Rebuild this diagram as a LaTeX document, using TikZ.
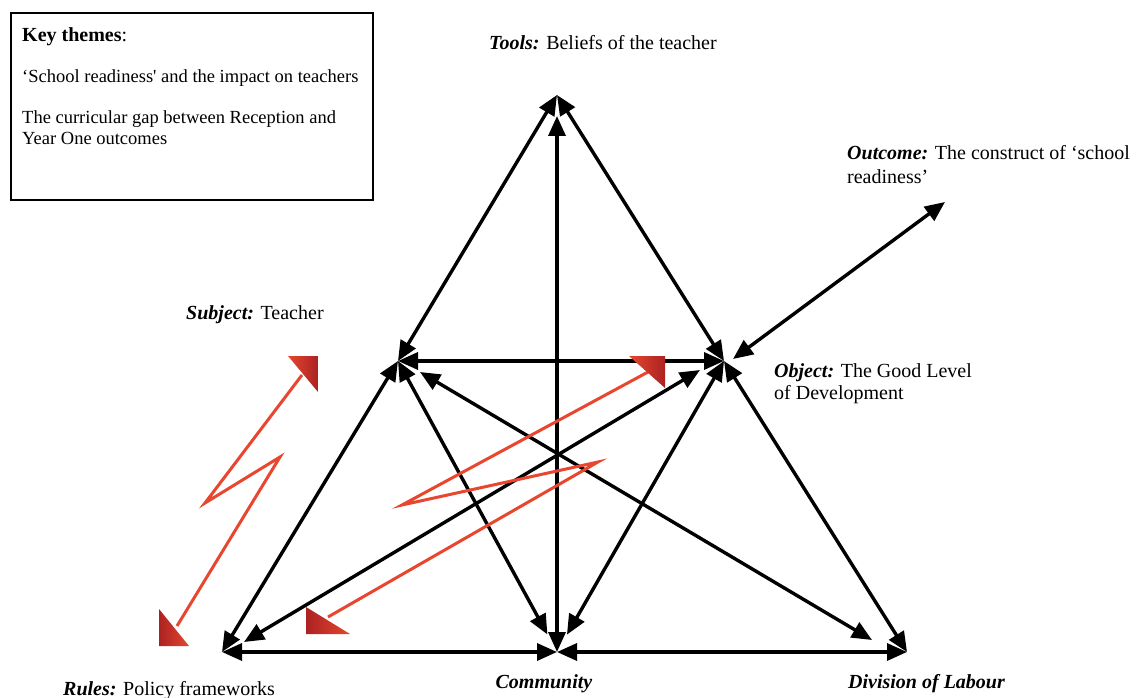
\documentclass[tikz,border=0pt]{standalone}
\usepackage{fontspec}
\setmainfont{Liberation Serif}
\usetikzlibrary{arrows.meta,calc}
\definecolor{redline}{HTML}{E8462E}
\definecolor{reddark}{HTML}{AC2222}
\definecolor{redlight}{HTML}{E4472F}
\begin{document}
\begin{tikzpicture}[x=1pt,y=-1pt,
  blk/.style={line width=3.4pt,{Triangle[length=20pt,width=17pt]}-{Triangle[length=20pt,width=17pt]}},
  zig/.style={draw=redline,line width=3pt,line join=miter},
  lab/.style={font=\fontsize{20}{23}\selectfont,anchor=base west,inner sep=0pt},
  boxtxt/.style={font=\fontsize{18.5}{21}\selectfont,anchor=base west,inner sep=0pt}
]
\useasboundingbox (0,0) rectangle (1136,698);
\fill[white] (0,0) rectangle (1136,698);

% key themes box
\draw[line width=2pt] (11,13) rectangle (373,200);
\node[boxtxt,font=\fontsize{20}{23}\selectfont] (k1) at (22,42) {\textbf{Key themes}:};
\node[boxtxt] (k2) at (22,83) {‘School readiness\textquotesingle{} and the impact on teachers};
\node[boxtxt] (k3) at (22,124) {The curricular gap between Reception and};
\node[boxtxt] (k4) at (22,145) {Year One outcomes};

% vertices
\coordinate (T) at (557,95);
\coordinate (S) at (398,361);
\coordinate (O) at (724,361);
\coordinate (R) at (222,652);
\coordinate (C) at (557,652);
\coordinate (D) at (907,652);
\coordinate (Ttip) at (557,116);
\coordinate (SD1) at (420,372);
\coordinate (SD2) at (872,640);
\coordinate (OR1) at (700,370);
\coordinate (OR2) at (244,642);
\coordinate (OutA) at (733,359);
\coordinate (OutB) at (945,202);
\coordinate (SC2) at ($(C)!20pt!(S)$);
\coordinate (OC2) at ($(C)!20pt!(O)$);

% black connectors
\draw[blk] (S) -- (T);
\draw[blk] (O) -- (T);
\draw[blk] (C) -- (Ttip);
\draw[blk] (S) -- (O);
\draw[blk] (S) -- (R);
\draw[blk] (S) -- (SC2);
\draw[blk] (O) -- (OC2);
\draw[blk] (O) -- (D);
\draw[blk] (SD1) -- (SD2);
\draw[blk] (OR1) -- (OR2);
\draw[blk] (R) -- (C);
\draw[blk] (C) -- (D);
\draw[blk] (OutA) -- (OutB);

% red lightning arrows
\coordinate (L1) at (177,626);
\coordinate (L2) at (280,457);
\coordinate (L3) at (205,503);
\coordinate (L4) at (302,375);
\draw[zig] (L1) -- (L2) -- (L3) -- (L4);
\shade[left color=redlight,right color=reddark] (288,356) -- (318,356) -- (318,392) -- cycle;
\shade[left color=reddark,right color=redlight] (159,609) -- (159,646) -- (189,646) -- cycle;

\coordinate (M1) at (328,617);
\coordinate (M2) at (598,462);
\coordinate (M3) at (402,505);
\coordinate (M4) at (648,372);
\draw[zig] (M1) -- (M2) -- (M3) -- (M4);
\shade[left color=redlight,right color=reddark] (629,356) -- (665,356) -- (665,388) -- cycle;
\shade[left color=reddark,right color=redlight] (306,607) -- (306,634) -- (350,634) -- cycle;

% labels
\node[lab] (tools) at (489,50) {\textbf{\textit{Tools:}} Beliefs of the teacher};
\node[lab] (out1) at (847,160) {\textbf{\textit{Outcome:}} The construct of ‘school};
\node[lab] (out2) at (847,183) {readiness’};
\node[lab] (subj) at (186,319) {\textbf{\textit{Subject:}} Teacher};
\node[lab] (obj1) at (774,377) {\textbf{\textit{Object:}} The Good Level};
\node[lab] (obj2) at (774,399) {of Development};
\node[lab] (rules) at (63,695) {\textbf{\textit{Rules:}} Policy frameworks};
\node[lab,anchor=base] (comm) at (544,688) {\textbf{\textit{Community}}};
\node[lab] (div) at (848,688) {\textbf{\textit{Division of Labour}}};
\end{tikzpicture}
\end{document}
